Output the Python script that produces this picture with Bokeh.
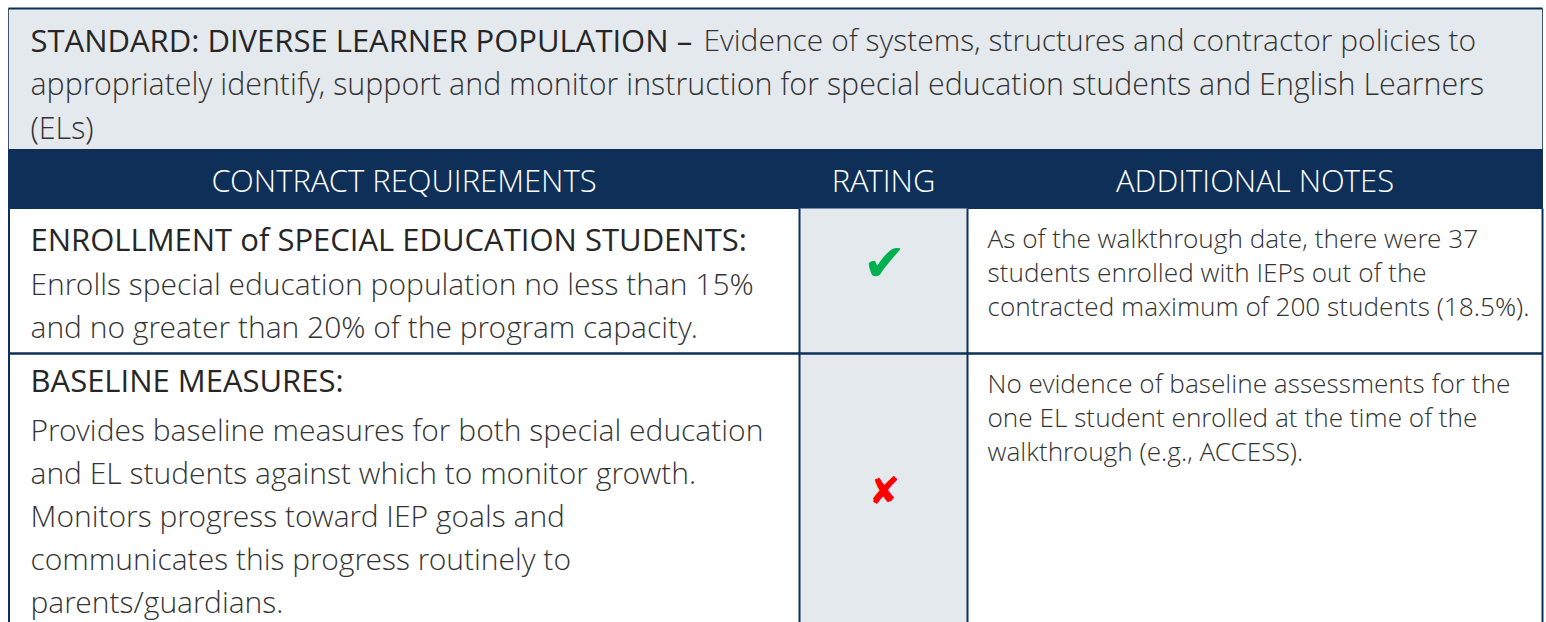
from bokeh.plotting import figure
from bokeh.models import Range1d
from bokeh.core.properties import value
from bokeh.embed import file_html
from bokeh.resources import INLINE

# ---------------- data ----------------
standard_label = "STANDARD: DIVERSE LEARNER POPULATION \u2013"
standard_desc_lines = [
    "Evidence of systems, structures and contractor policies to",
    "appropriately identify, support and monitor instruction for special education students and English Learners",
    "(ELs)",
]
column_headers = ["CONTRACT REQUIREMENTS", "RATING", "ADDITIONAL NOTES"]
requirement_titles = ["ENROLLMENT of SPECIAL EDUCATION STUDENTS:", "BASELINE MEASURES:"]
requirement_text = [
    ["Enrolls special education population no less than 15%",
     "and no greater than 20% of the program capacity."],
    ["Provides baseline measures for both special education",
     "and EL students against which to monitor growth.",
     "Monitors progress toward IEP goals and",
     "communicates this progress routinely to",
     "parents/guardians."],
]
ratings = ["met", "not met"]
notes = [
    ["As of the walkthrough date, there were 37",
     "students enrolled with IEPs out of the",
     "contracted maximum of 200 students (18.5%)."],
    ["No evidence of baseline assessments for the",
     "one EL student enrolled at the time of the",
     "walkthrough (e.g., ACCESS)."],
]

# ---------------- layout / style ----------------
W, H = 1546, 622
NAVY = "#0E2F58"
LIGHT = "#E4E9EE"
TEXT = "#333333"
DARK = "#262626"
FONT = "Open Sans"
FONT_LIGHT = "Open Sans Light, Open Sans"
BODY_SIZE = "30px"
WIDE_SIZE = "30.4px"
TITLE_SIZE = "31px"
HEAD_SIZE = "31px"
NOTE_SIZE = "26.2px"

X0, X1 = 8, 1542
C1, C2 = 799, 967
Y_TOP, HDR_BOT, NAV_BOT = 8, 149, 208
row_tops = [208, 353]
row_bots = [353, 700]
title_offset = [30, 26]
symbol_offset = [54, 137]
heading_gap = [45, 50]
LINE = 43
NOTE_LINE = 34

p = figure(width=W, height=H, output_backend="svg", toolbar_location=None,
           x_range=Range1d(0, W), y_range=Range1d(H, 0), min_border=0)
p.axis.visible = False
p.grid.visible = False
p.outline_line_color = None
p.background_fill_color = "white"
p.border_fill_color = "white"

# header box
p.quad(left=[X0], right=[X1], top=[Y_TOP], bottom=[HDR_BOT],
       fill_color=LIGHT, line_color="#44546A", line_width=1)
# navy header bar
p.quad(left=[X0], right=[X1], top=[HDR_BOT], bottom=[NAV_BOT],
       fill_color=NAVY, line_color=NAVY, line_width=1)
# rating column fill
p.quad(left=[C1], right=[C2], top=[NAV_BOT], bottom=[row_bots[-1]],
       fill_color=LIGHT, line_color=None)
# top line
p.segment(x0=[X0], y0=[Y_TOP], x1=[X1], y1=[Y_TOP], line_color=NAVY, line_width=2)
# vertical grid lines
vx = [X0 + 0.5, C1, C2, X1]
p.segment(x0=vx, y0=[NAV_BOT] * 4, x1=vx, y1=[row_bots[-1]] * 4,
          line_color=NAVY, line_width=2)
# row separators
p.segment(x0=[X0] * (len(row_tops) - 1), y0=row_bots[:-1],
          x1=[X1] * (len(row_tops) - 1), y1=row_bots[:-1],
          line_color=NAVY, line_width=2.5)

# standard description
p.text(x=[30], y=[Y_TOP + 31], text=[standard_label], text_font=value(FONT),
       text_font_size=TITLE_SIZE, text_color=DARK, text_baseline="middle")
p.text(x=[703], y=[Y_TOP + 31], text=[standard_desc_lines[0]], text_font=value(FONT_LIGHT),
       text_font_size=BODY_SIZE, text_color=TEXT, text_baseline="middle")
p.text(x=[30] * 2, y=[Y_TOP + 31 + 44 * (i + 1) for i in range(2)],
       text=standard_desc_lines[1:], text_font=value(FONT_LIGHT),
       text_font_size=WIDE_SIZE, text_color=TEXT, text_baseline="middle")

# column headers
hx = [(X0 + C1) / 2, (C1 + C2) / 2, (C2 + X1) / 2]
p.text(x=hx, y=[(HDR_BOT + NAV_BOT) / 2 + 1] * 3, text=column_headers,
       text_font=value(FONT_LIGHT), text_font_size=HEAD_SIZE, text_color="white",
       text_align="center", text_baseline="middle")

symbols = {"met": ("\u2714", "#00B050", "52px"), "not met": ("\u2718", "#FF0000", "38px")}

for i, top in enumerate(row_tops):
    ty = top + title_offset[i]
    p.text(x=[30], y=[ty], text=[requirement_titles[i]], text_font=value(FONT),
           text_font_size=TITLE_SIZE, text_color=DARK, text_baseline="middle")
    lines = requirement_text[i]
    ys = [ty + heading_gap[i] + LINE * k for k in range(len(lines))]
    p.text(x=[30] * len(lines), y=ys, text=lines, text_font=value(FONT_LIGHT),
           text_font_size=BODY_SIZE, text_color=TEXT, text_baseline="middle")
    sym, col, size = symbols[ratings[i]]
    p.text(x=[(C1 + C2) / 2 + 1], y=[top + symbol_offset[i]], text=[sym],
           text_font=value("DejaVu Sans"), text_font_size=size, text_color=col,
           text_align="center", text_baseline="middle")
    nl = notes[i]
    ny = [top + 29 + NOTE_LINE * k for k in range(len(nl))]
    p.text(x=[C2 + 20] * len(nl), y=ny, text=nl, text_font=value(FONT_LIGHT),
           text_font_size=NOTE_SIZE, text_color=TEXT, text_baseline="middle")

open("out.html", "w").write(file_html(p, INLINE))
